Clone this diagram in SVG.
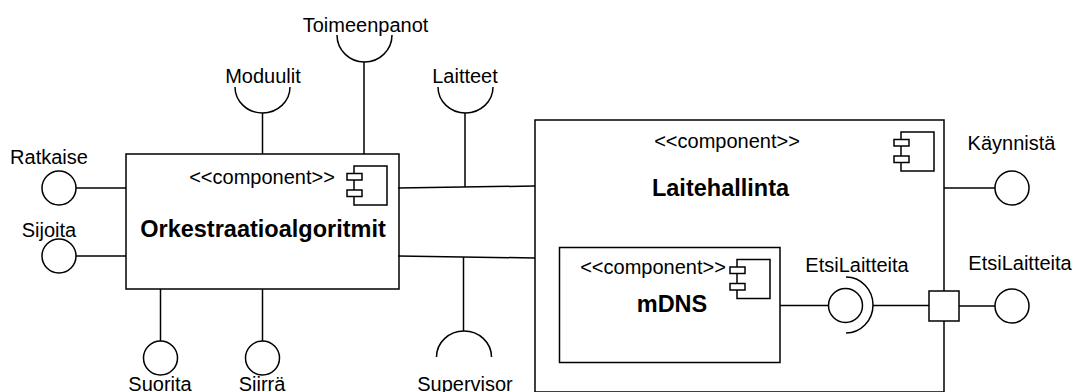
<svg xmlns="http://www.w3.org/2000/svg" width="1075" height="392" viewBox="0 0 1075 392">
  <style>
    .box { fill: #ffffff; stroke: #000000; stroke-width: 1.5; }
    .ln { fill: none; stroke: #000000; stroke-width: 1.5; }
    .ball { fill: #ffffff; stroke: #000000; stroke-width: 1.5; }
    .lbl { font-family: "Liberation Sans", Arial, Helvetica, sans-serif; font-size: 20px; fill: #000000; text-anchor: middle; }
    .title { font-family: "Liberation Sans", Arial, Helvetica, sans-serif; font-size: 23.5px; font-weight: bold; fill: #000000; text-anchor: middle; }
  </style>
  <defs>
    <!-- UML component icon: body with two tabs on its left edge -->
    <g id="compIcon">
      <rect class="box" x="0" y="0" width="33" height="39"/>
      <rect class="box" x="-7" y="7.5" width="15" height="6.5"/>
      <rect class="box" x="-7" y="24" width="15" height="6.5"/>
    </g>
  </defs>

  <rect width="1075" height="392" fill="#ffffff"/>

  <!-- Orkestraatioalgoritmit component -->
  <g id="orkestraatio">
    <rect class="box" x="126" y="154" width="273" height="135"/>
    <text class="lbl" x="262" y="184">&lt;&lt;component&gt;&gt;</text>
    <use href="#compIcon" x="354" y="166"/>
    <text class="title" x="263" y="237">Orkestraatioalgoritmit</text>
  </g>

  <!-- Laitehallinta component -->
  <g id="laitehallinta">
    <rect class="box" x="535" y="120" width="409" height="272"/>
    <text class="lbl" x="727" y="148">&lt;&lt;component&gt;&gt;</text>
    <use href="#compIcon" x="901" y="132"/>
    <text class="title" x="720.5" y="196">Laitehallinta</text>
  </g>

  <!-- mDNS component nested in Laitehallinta -->
  <g id="mdns">
    <rect class="box" x="559.5" y="247.5" width="220.5" height="115"/>
    <text class="lbl" x="653" y="274">&lt;&lt;component&gt;&gt;</text>
    <use href="#compIcon" x="737" y="259.5"/>
    <text class="title" x="672" y="312">mDNS</text>
  </g>

  <!-- connectors -->
  <g id="connectors">
    <line class="ln" x1="76" y1="188" x2="126" y2="188"/>
    <line class="ln" x1="76" y1="256" x2="126" y2="256"/>
    <line class="ln" x1="262.5" y1="113" x2="262.5" y2="154"/>
    <line class="ln" x1="364" y1="62" x2="364" y2="154"/>
    <line class="ln" x1="465" y1="113" x2="465" y2="187"/>
    <line class="ln" x1="398" y1="188" x2="535" y2="186"/>
    <line class="ln" x1="398" y1="256" x2="535" y2="258"/>
    <line class="ln" x1="463.5" y1="257" x2="463.5" y2="331"/>
    <line class="ln" x1="160.5" y1="289" x2="160.5" y2="341"/>
    <line class="ln" x1="262.5" y1="289" x2="262.5" y2="341"/>
    <line class="ln" x1="944" y1="188" x2="995" y2="188"/>
    <line class="ln" x1="959" y1="306" x2="995" y2="306"/>
    <line class="ln" x1="780" y1="305.5" x2="828.5" y2="305.5"/>
    <line class="ln" x1="873" y1="305.5" x2="929" y2="305.5"/>
  </g>

  <!-- provided interfaces (balls) -->
  <g id="ratkaise">
    <circle class="ball" cx="59" cy="188" r="17"/>
    <text class="lbl" x="49" y="164">Ratkaise</text>
  </g>
  <g id="sijoita">
    <circle class="ball" cx="59" cy="256" r="17"/>
    <text class="lbl" x="49" y="237">Sijoita</text>
  </g>
  <g id="suorita">
    <circle class="ball" cx="160.5" cy="358" r="17"/>
    <text class="lbl" x="160" y="390.5">Suorita</text>
  </g>
  <g id="siirra">
    <circle class="ball" cx="262.5" cy="358" r="17"/>
    <text class="lbl" x="262" y="390.5">Siirrä</text>
  </g>
  <g id="kaynnista">
    <circle class="ball" cx="1012" cy="188" r="17"/>
    <text class="lbl" x="1011.5" y="150">Käynnistä</text>
  </g>
  <g id="etsilaitteita-out">
    <circle class="ball" cx="1012" cy="306" r="17"/>
    <text class="lbl" x="1020" y="270">EtsiLaitteita</text>
  </g>

  <!-- required interfaces (sockets) -->
  <g id="moduulit">
    <path class="ln" d="M 235 87 A 27.5 26 0 0 0 290 87"/>
    <text class="lbl" x="263" y="83">Moduulit</text>
  </g>
  <g id="toimeenpanot">
    <path class="ln" d="M 337 35 A 27.5 27 0 0 0 392 35"/>
    <text class="lbl" x="365.5" y="32">Toimeenpanot</text>
  </g>
  <g id="laitteet">
    <path class="ln" d="M 438 87 A 27.5 26 0 0 0 493 87"/>
    <text class="lbl" x="465" y="83">Laitteet</text>
  </g>
  <g id="supervisor">
    <path class="ln" d="M 436.5 357 A 27.5 26 0 0 1 491.5 357"/>
    <text class="lbl" x="465" y="390.5">Supervisor</text>
  </g>

  <!-- internal EtsiLaitteita ball-and-socket -->
  <g id="etsilaitteita-in">
    <circle class="ball" cx="845.5" cy="305.5" r="17"/>
    <path class="ln" d="M 846 277 A 27 28 0 0 1 846 333"/>
    <text class="lbl" x="857" y="272">EtsiLaitteita</text>
  </g>

  <!-- port on Laitehallinta boundary -->
  <g id="port">
    <rect class="box" x="929" y="291" width="30" height="30"/>
  </g>
</svg>
